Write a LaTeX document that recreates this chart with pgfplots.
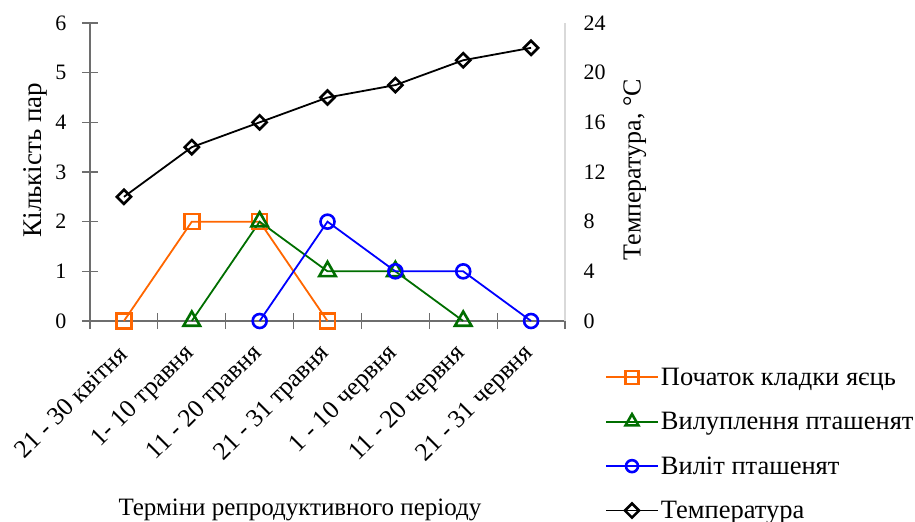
\documentclass[border=0pt]{standalone}
\usepackage{fontspec}
\setmainfont{Liberation Serif}
\usepackage{pgfplots}
\pgfplotsset{compat=1.18}
\definecolor{cOrange}{RGB}{255,102,0}
\definecolor{cGreen}{RGB}{0,110,0}
\definecolor{cBlue}{RGB}{0,0,255}
\definecolor{axgray}{RGB}{110,110,110}
\definecolor{ltgray}{RGB}{217,217,217}
\begin{document}
\begin{tikzpicture}
\pgfplotsset{
  every axis/.append style={font=\fontsize{22}{26}\selectfont},
  /pgf/number format/assume math mode=true,
}
\begin{axis}[
  scale only axis, width=475pt, height=298pt,
  xmin=-0.5, xmax=6.5, ymin=0, ymax=6,
  axis x line*=bottom, axis y line*=left,
  axis line style={axgray, line width=1.2pt, -},
  xtick={0,...,6},
  xticklabels={21 - 30 квітня, 1- 10 травня, 11 - 20 травня, 21 - 31 травня, 1 - 10 червня, 11 - 20 червня, 21 - 31 червня},
  x tick label style={rotate=45, anchor=east, inner sep=1pt, xshift=-14.7pt, yshift=-14pt, font=\fontsize{25.5}{30}\selectfont},
  y tick label style={xshift=-12pt},
  major x tick style={draw=none},
  minor xtick={-0.5,0.5,...,6.5},
  minor x tick style={axgray, line width=1.2pt},
  minor tick length=16pt,
  ytick={0,...,6},
  major tick length=16pt,
  tick align=center,
  y tick style={axgray, line width=1.2pt},
  xlabel={Терміни репродуктивного періоду},
  xlabel style={at={(axis description cs:0.442,-0.635)}, anchor=center, font=\fontsize{25}{30}\selectfont},
  ylabel={Кількість пар},
  ylabel style={at={(axis description cs:-0.114,0.54)}, anchor=center, font=\fontsize{27}{32}\selectfont},
  clip=false,
]
\addplot[cOrange, line width=1.8pt, mark=square, mark size=7.5pt, mark options={line width=2.6pt, fill=white, solid}] coordinates {(0,0)(1,2)(2,2)(3,0)};
\addplot[cGreen, line width=1.8pt, mark=triangle, mark size=9.5pt, mark options={line width=2.6pt, fill=white, solid}] coordinates {(1,0)(2,2)(3,1)(4,1)(5,0)};
\addplot[cBlue, line width=1.8pt, mark=o, mark size=7pt, mark options={line width=2.6pt, fill=white, solid}] coordinates {(2,0)(3,2)(4,1)(5,1)(6,0)};
\coordinate (bl) at (rel axis cs:0,0);
\coordinate (tr) at (rel axis cs:1,1);
\end{axis}
\begin{axis}[
  scale only axis, width=475pt, height=298pt,
  xmin=-0.5, xmax=6.5, ymin=0, ymax=24,
  axis x line=none, axis y line*=right,
  axis line style={ltgray, line width=1.2pt, -},
  ytick={0,4,...,24}, major tick length=0pt,
  y tick label style={xshift=15pt},
  ylabel={Температура, °C},
  ylabel style={at={(axis description cs:1.147,0.508)}, anchor=center, font=\fontsize{26}{31}\selectfont},
  legend cell align=left,
  legend style={at={(axis description cs:1.084,-0.15)}, anchor=north west, draw=none, fill=none, row sep=21.5pt, inner sep=0pt,
    font=\fontsize{26.5}{31}\selectfont},
  legend image code/.code={\draw[mark repeat=2,mark phase=2] plot coordinates {(0pt,0pt) (26pt,0pt) (52pt,0pt)};},
  clip=false,
]
\addlegendimage{draw=cOrange, color=cOrange, line width=1.8pt, mark=square, mark size=6.5pt, mark options={draw=cOrange, line width=2.6pt, fill=white, solid}}
\addlegendentry{Початок кладки яєць}
\addlegendimage{draw=cGreen, color=cGreen, line width=1.8pt, mark=triangle, mark size=7.5pt, mark options={draw=cGreen, line width=2.6pt, fill=white, solid}}
\addlegendentry{Вилуплення пташенят}
\addlegendimage{draw=cBlue, color=cBlue, line width=1.8pt, mark=o, mark size=6pt, mark options={draw=cBlue, line width=2.6pt, fill=white, solid}}
\addlegendentry{Виліт пташенят}
\addplot[black, line width=1.8pt, mark=square, mark size=5pt, mark options={rotate=45, line width=2.6pt, fill=white, solid}] coordinates {(0,10)(1,14)(2,16)(3,18)(4,19)(5,21)(6,22)};
\addlegendentry{Температура}
\end{axis}
\pgfresetboundingbox
\path[use as bounding box] ([shift={(-90pt,-200pt)}]bl) rectangle ([shift={(350pt,23pt)}]tr);
\end{tikzpicture}
\end{document}
